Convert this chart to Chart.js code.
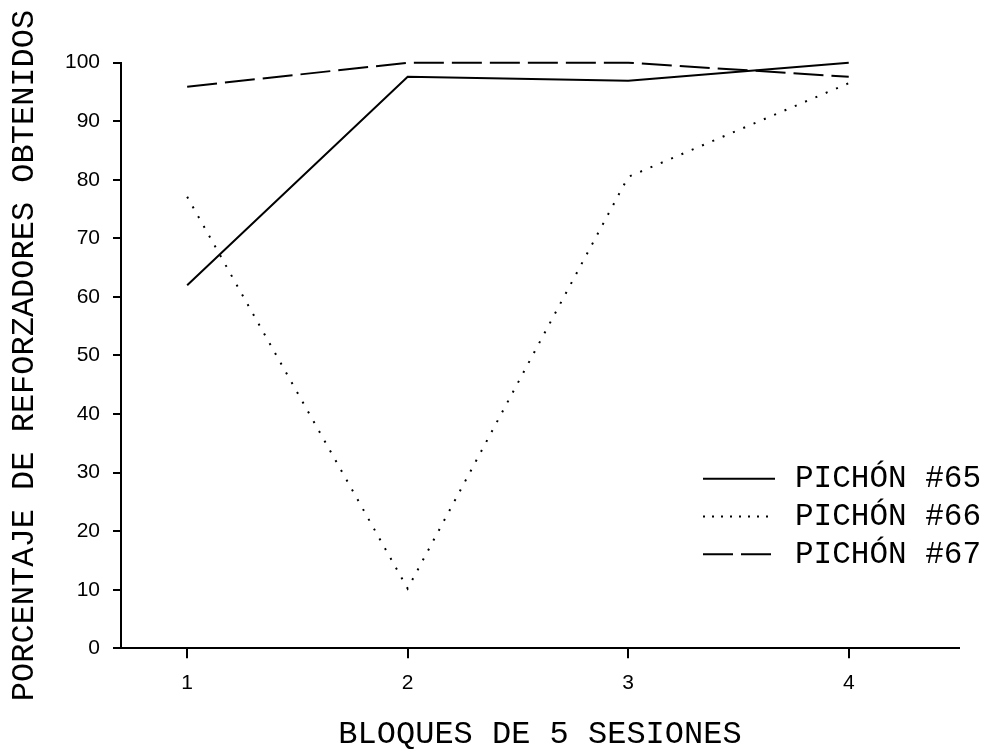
<!DOCTYPE html>
<html>
<head>
<meta charset="utf-8">
<script src="https://cdn.jsdelivr.net/npm/chart.js@4/dist/chart.umd.min.js"></script>
<style>
  html, body { margin: 0; padding: 0; background: #fff; }
  #wrap { width: 987px; height: 749px; }
</style>
</head>
<body>
<div id="wrap"><canvas id="c" width="987" height="749"></canvas></div>
<script>
// Bloques de 5 sesiones
const bloques = [1, 2, 3, 4];
// Porcentaje de reforzadores obtenidos por pichón
const pichon65 = [62.0, 97.6, 96.9, 100];
const pichon66 = [77.1, 10.2, 80.5, 96.5];
const pichon67 = [95.9, 100, 100, 97.6];
const yTicks = [0, 10, 20, 30, 40, 50, 60, 70, 80, 90, 100];

const toPoints = vals => bloques.map((b, i) => ({ x: b, y: vals[i] }));

const MONO = "'Liberation Mono', 'Courier New', monospace";
const SANS = "'Liberation Sans', Arial, sans-serif";

// Leyenda dibujada en la esquina inferior derecha
const cornerLegend = {
  id: 'cornerLegend',
  afterDatasetsDraw(chart, args, opts) {
    const ctx = chart.ctx;
    chart.data.datasets.forEach((ds, i) => {
      const y = opts.top + i * opts.rowGap;
      ctx.save();
      ctx.strokeStyle = ds.borderColor;
      ctx.lineWidth = ds.borderWidth;
      ctx.lineCap = 'butt';
      ctx.setLineDash(ds.legendDash || ds.borderDash || []);
      ctx.beginPath();
      ctx.moveTo(opts.x, y);
      ctx.lineTo(opts.x + opts.lineLen, y);
      ctx.stroke();
      ctx.setLineDash([]);
      ctx.fillStyle = '#000';
      ctx.font = opts.font;
      ctx.textAlign = 'left';
      ctx.textBaseline = 'alphabetic';
      ctx.fillText(ds.label, opts.x + opts.lineLen + opts.gap, y + opts.capShift);
      ctx.restore();
    });
  }
};

new Chart(document.getElementById('c'), {
  type: 'line',
  data: {
    datasets: [
      { label: 'PICHÓN #65', data: toPoints(pichon65), borderColor: '#000', borderWidth: 2,
        borderDash: [], pointRadius: 0, tension: 0, fill: false, clip: false },
      { label: 'PICHÓN #66', data: toPoints(pichon66), borderColor: '#000', borderWidth: 2,
        borderDash: [2, 9.2], legendDash: [2, 7], pointRadius: 0, tension: 0, fill: false, clip: false },
      { label: 'PICHÓN #67', data: toPoints(pichon67), borderColor: '#000', borderWidth: 2,
        borderDash: [30, 8], pointRadius: 0, tension: 0, fill: false, clip: false }
    ]
  },
  options: {
    responsive: false,
    animation: false,
    devicePixelRatio: 1,
    layout: { padding: { left: 0, right: 28, top: 62.7, bottom: 0 } },
    plugins: {
      legend: { display: false },
      tooltip: { enabled: false },
      cornerLegend: { x: 703, top: 478.7, rowGap: 37.8, lineLen: 72, gap: 20, capShift: 8.3,
        font: '31px ' + MONO }
    },
    scales: {
      x: {
        type: 'linear',
        min: 0.7,
        max: 4.5,
        afterFit: s => { s.height = 749 - 648.3; },
        afterBuildTicks: s => { s.ticks = bloques.map(v => ({ value: v })); },
        grid: { drawOnChartArea: false, drawTicks: true, tickLength: 10, color: '#000', lineWidth: 2 },
        border: { display: true, color: '#000', width: 2 },
        ticks: { color: '#000', padding: 12, font: { family: SANS, size: 21 }, maxRotation: 0 },
        title: { display: true, text: 'BLOQUES DE 5 SESIONES', color: '#000',
          font: { family: MONO, size: 32, lineHeight: 0.9 }, padding: { top: 0, bottom: 0 } }
      },
      y: {
        type: 'linear',
        min: 0,
        max: 100,
        afterFit: s => { s.width = 121; },
        afterBuildTicks: s => { s.ticks = yTicks.map(v => ({ value: v })); },
        grid: { drawOnChartArea: false, drawTicks: true, tickLength: 8, color: '#000', lineWidth: 2 },
        border: { display: true, color: '#000', width: 2 },
        ticks: { color: '#000', padding: 13, font: { family: SANS, size: 21 } },
        title: { display: true, text: 'PORCENTAJE DE REFORZADORES OBTENIDOS', color: '#000',
          font: { family: MONO, size: 32 }, padding: { top: 5, bottom: 0 } }
      }
    }
  },
  plugins: [cornerLegend]
});
</script>
</body>
</html>
